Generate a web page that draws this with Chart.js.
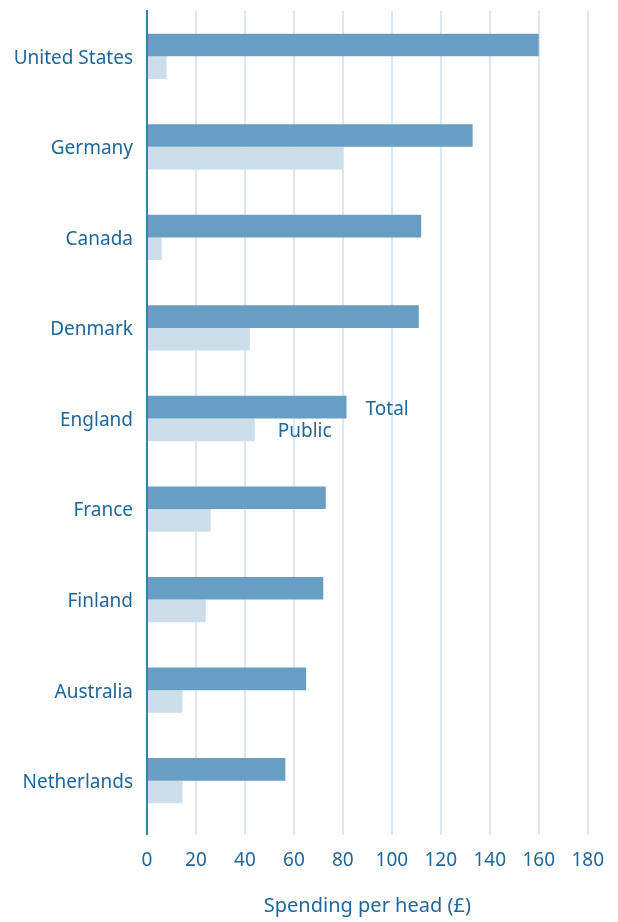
<!DOCTYPE html>
<html>
<head>
<meta charset="utf-8">
<script src="https://cdn.jsdelivr.net/npm/chart.js@4"></script>
<style>
  html, body { margin: 0; padding: 0; background: #fff; }
  #wrap { width: 618px; height: 922px; }
</style>
</head>
<body>
<div id="wrap"><canvas id="spendChart" width="618" height="922"></canvas></div>
<script>
const countries = ['United States','Germany','Canada','Denmark','England','France','Finland','Australia','Netherlands'];
const totalSpend = [160, 133, 112, 111, 81.5, 73, 72, 65, 56.5];
const publicSpend = [8, 80, 6, 42, 44, 26, 24, 14.5, 14.5];
const xTicks = [0, 20, 40, 60, 80, 100, 120, 140, 160, 180];

const textBlue = '#1f6699';
const axisBlue = '#3b7fae';
const gridBlue = '#dce8f1';
const fontFamily = '"Noto Sans", sans-serif';

// labels "Total" / "Public" beside the England bars
const seriesLabels = {
  id: 'seriesLabels',
  afterDatasetsDraw(chart) {
    const ctx = chart.ctx;
    const i = countries.indexOf('England');
    const xs = chart.scales.x;
    const barT = chart.getDatasetMeta(0).data[i];
    const barP = chart.getDatasetMeta(1).data[i];
    ctx.save();
    ctx.fillStyle = textBlue;
    ctx.font = '19px ' + fontFamily;
    ctx.textAlign = 'left';
    ctx.textBaseline = 'middle';
    ctx.fillText('Total', xs.getPixelForValue(totalSpend[i]) + 19, barT.y + 2);
    ctx.fillText('Public', xs.getPixelForValue(publicSpend[i]) + 23, barP.y + 2);
    ctx.restore();
  }
};

new Chart(document.getElementById('spendChart').getContext('2d'), {
  type: 'bar',
  data: {
    labels: countries,
    datasets: [{
      label: 'Total',
      data: totalSpend,
      backgroundColor: '#679ec2'
    }, {
      label: 'Public',
      data: publicSpend,
      backgroundColor: '#cbdeea'
    }]
  },
  options: {
    indexAxis: 'y',
    responsive: false,
    animation: false,
    datasets: { bar: { categoryPercentage: 0.5, barPercentage: 1.0 } },
    layout: { padding: { top: 11, right: 29, left: 0, bottom: 0 } },
    plugins: {
      legend: { display: false },
      tooltip: { enabled: false }
    },
    scales: {
      x: {
        min: 0,
        max: 180,
        afterBuildTicks: s => { s.ticks = xTicks.map(v => ({ value: v })); },
        afterFit: s => { s.height = 96; },
        grid: {
          color: gridBlue,
          lineWidth: 2,
          drawTicks: true,
          tickLength: 9,
          tickColor: c => c.index === 0 ? axisBlue : gridBlue
        },
        border: { display: false },
        ticks: {
          color: textBlue,
          padding: 14,
          font: { family: fontFamily, size: 19 },
          maxRotation: 0
        },
        title: {
          display: true,
          text: 'Spending per head (£)',
          color: textBlue,
          font: { family: fontFamily, size: 20 },
          padding: { top: 17 }
        }
      },
      y: {
        afterFit: s => { s.width = 147; s.paddingTop = 0; s.paddingBottom = 0; },
        grid: { display: false },
        border: { display: true, color: axisBlue, width: 2 },
        ticks: {
          color: textBlue,
          padding: 6,
          labelOffset: 2,
          font: { family: fontFamily, size: 19 }
        }
      }
    }
  },
  plugins: [seriesLabels]
});
</script>
</body>
</html>
